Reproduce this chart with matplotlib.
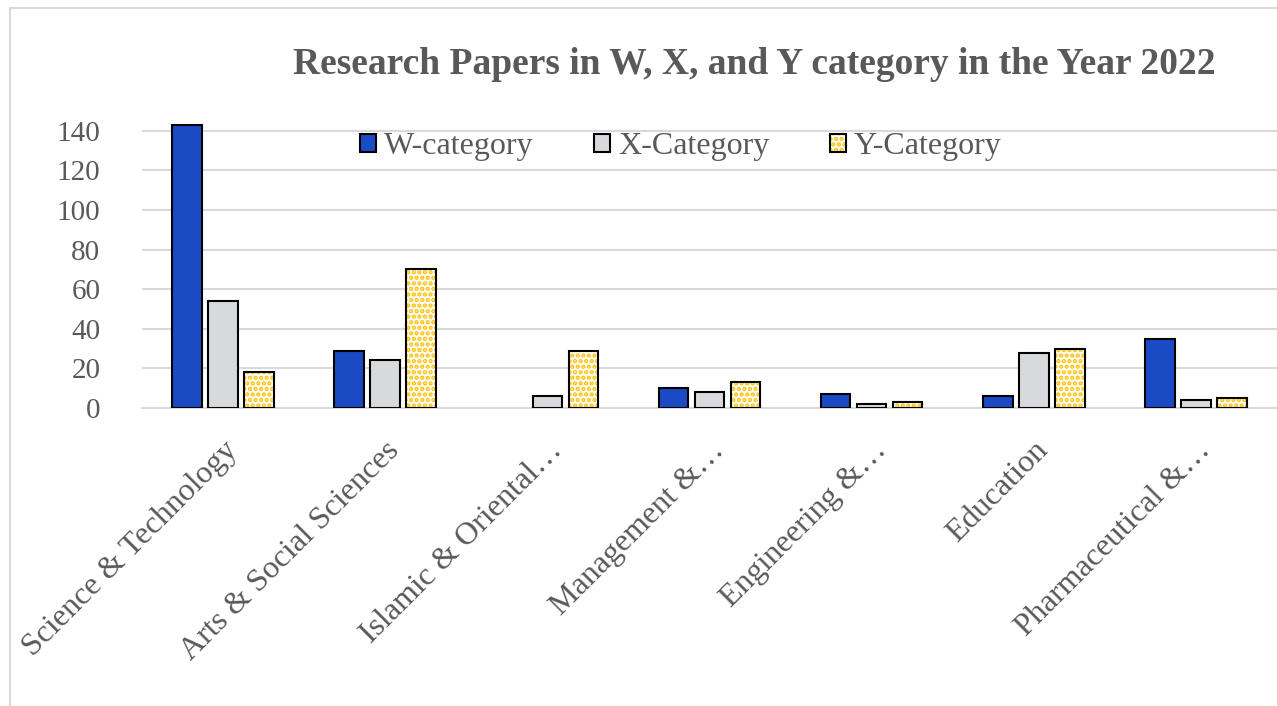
import numpy as np
import matplotlib.pyplot as plt
import matplotlib.transforms as mtransforms
from matplotlib.patches import Rectangle, Patch
from matplotlib.legend_handler import HandlerTuple

categories = [
    "Science & Technology",
    "Arts & Social Sciences",
    "Islamic & Oriental…",
    "Management &…",
    "Engineering &…",
    "Education",
    "Pharmaceutical &…",
]
w_values = [143, 29, 0, 10, 7, 6, 35]
x_values = [54, 24, 6, 8, 2, 28, 4]
y_values = [18, 70, 29, 13, 3, 30, 5]
y_ticks = [0, 20, 40, 60, 80, 100, 120, 140]

plt.rcParams["font.family"] = ["Liberation Serif", "DejaVu Serif"]
plt.rcParams["hatch.linewidth"] = 2.2
text_color = "#595959"
grid_color = "#D9D9D9"

fig = plt.figure(figsize=(12.77, 7.06), dpi=100)
ax = fig.add_axes([142 / 1277, 1 - 408 / 706, 1 - 142 / 1277, (408 - 121) / 706])

pos = np.arange(len(categories))
bw = 0.183
step = 0.222


def edges(vals):
    # no outline for empty bars
    return ["black" if v > 0 else "none" for v in vals]


ax.bar(pos - step, w_values, bw, color="#1A4BC5", edgecolor=edges(w_values),
       linewidth=1.5, zorder=3)
ax.bar(pos, x_values, bw, color="#D8D9DC", edgecolor=edges(x_values),
       linewidth=1.5, zorder=3)
# Y bars: dotted fill then black outline
ax.bar(pos + step, y_values, bw, color="white", edgecolor="#FFC000", hatch="...",
       linewidth=0, zorder=3)
ax.bar(pos + step, y_values, bw, fill=False, edgecolor=edges(y_values),
       linewidth=1.5, zorder=4)

ax.set_xlim(-0.5, 6.5)
ax.set_ylim(0, 145)
ax.set_yticks(y_ticks)
ax.set_xticks(pos)
ax.set_xticklabels(categories, rotation=45, ha="right", rotation_mode="anchor",
                   fontsize=23, color=text_color)
shift = mtransforms.ScaledTranslation(-7 / 100, 0, fig.dpi_scale_trans)
for lbl in ax.get_xticklabels():
    lbl.set_transform(lbl.get_transform() + shift)
ax.tick_params(axis="y", labelsize=21, labelcolor=text_color, length=0, pad=30)
ax.tick_params(axis="x", length=0, pad=20)
ax.grid(axis="y", color=grid_color, linewidth=1.5, zorder=0)
for s in ["top", "right", "left"]:
    ax.spines[s].set_visible(False)
ax.spines["bottom"].set_color(grid_color)
ax.spines["bottom"].set_linewidth(1.5)

fig.text(0.591, 0.908, "Research Papers in W, X, and Y category in the Year 2022",
         ha="center", va="center", fontsize=27, fontweight="bold", color=text_color)

h_w = Patch(facecolor="#1A4BC5", edgecolor="black", linewidth=1.5)
h_x = Patch(facecolor="#D8D9DC", edgecolor="black", linewidth=1.5)
h_y = (Patch(facecolor="white", edgecolor="#FFC000", hatch="...", linewidth=0),
       Patch(fill=False, edgecolor="black", linewidth=1.5))
fig.legend([h_w, h_x, h_y], ["W-category", "X-Category", "Y-Category"],
           handler_map={tuple: HandlerTuple(ndivide=1)},
           loc="center", bbox_to_anchor=(0.533, 0.792), ncol=3, frameon=False,
           fontsize=23, labelcolor=text_color, handlelength=0.5, handleheight=0.5,
           handletextpad=0.25, columnspacing=1.9)

# chart border
fig.patches.append(Rectangle((10 / 1277, -0.1), 1.2, 1 - 8 / 706 + 0.1,
                             transform=fig.transFigure, fill=False,
                             edgecolor=grid_color, linewidth=1.5))

fig.savefig("out.png", dpi=100)
